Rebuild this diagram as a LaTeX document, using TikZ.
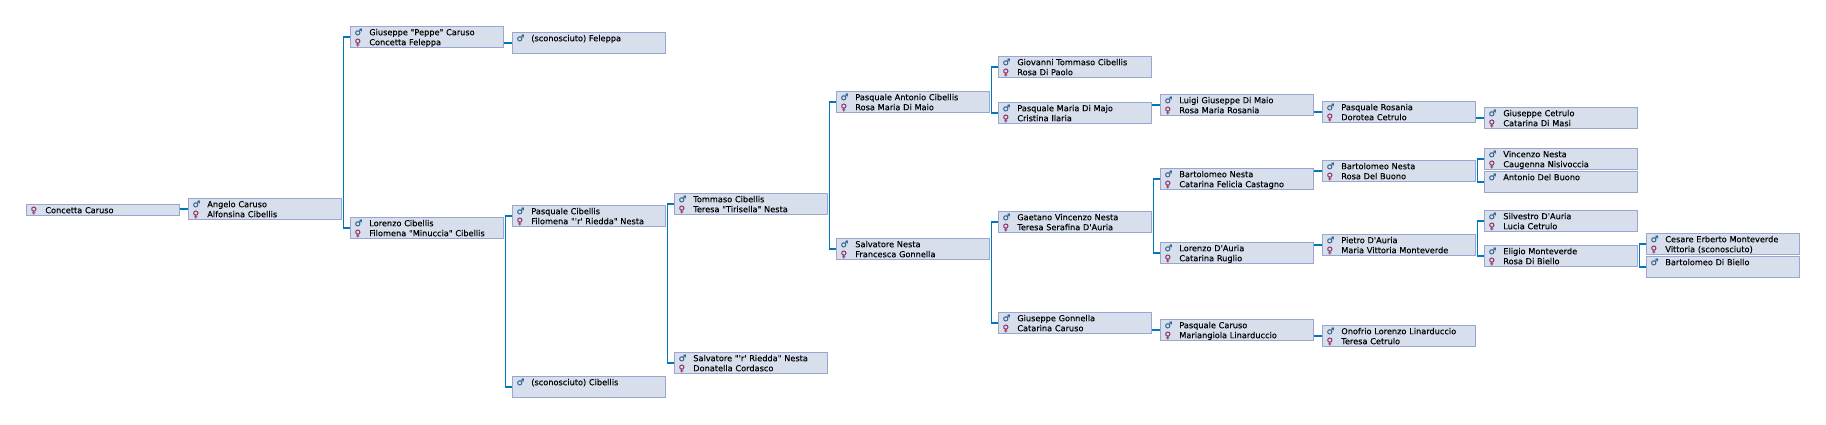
\documentclass[tikz,border=0pt]{standalone}
\usepackage{fontspec}
\usepackage{xcolor}
\usetikzlibrary{positioning}
\newfontfamily\pedfont[WordSpace=1.5,FakeBold=0.1]{DejaVu Sans}
\newfontfamily\signfont[FakeBold=0.3]{DejaVu Sans}
\definecolor{boxfill}{HTML}{D6DFEB}
\definecolor{boxline}{HTML}{9AA6CE}
\definecolor{linkline}{HTML}{0077BB}
\definecolor{malecol}{HTML}{2F5F8F}
\definecolor{femalecol}{HTML}{8B2560}
\newcommand{\linerule}{\rule[-1.8pt]{0pt}{10pt}}
\newcommand{\he}[1]{\linerule\makebox[14.8pt][l]{\textcolor{malecol}{\signfont\fontsize{9}{10}\selectfont ♂}}#1}
\newcommand{\she}[1]{\linerule\makebox[14.8pt][l]{\textcolor{femalecol}{\signfont\fontsize{9}{10}\selectfont ♀}}#1}
\tikzset{
  person/.style={
    rectangle,
    draw=boxline,
    fill=boxfill,
    line width=0.8pt,
    outer sep=0pt,
    inner xsep=4.5pt,
    inner ysep=0pt,
    text width=144.6pt,
    minimum height=21.4pt,
    align=left,
    font=\pedfont\fontsize{8.2}{10}\selectfont,
  },
  child/.style={person,right=8.4pt of #1},
  link/.style={draw=linkline,line width=1.4pt},
}
\begin{document}
\begin{tikzpicture}[x=1pt,y=-1pt]
  \useasboundingbox (0,0) rectangle (1826,424);

  \node[person,minimum height=11.4pt] (concetta) at (102.8,210) {\she{Concetta Caruso}};
  \node[child=concetta,yshift=1pt] (angelo) {\he{Angelo Caruso}\\\she{Alfonsina Cibellis}};

  \node[child=angelo,yshift=172pt] (giuseppe) {\he{Giuseppe "Peppe" Caruso}\\\she{Concetta Feleppa}};
  \node[child=angelo,yshift=-19pt] (lorenzo) {\he{Lorenzo Cibellis}\\\she{Filomena "Minuccia" Cibellis}};

  \node[child=giuseppe,yshift=-6pt] (feleppa) {\he{(sconosciuto) Feleppa}\\\linerule};
  \node[child=lorenzo,yshift=12pt] (pasqualec) {\he{Pasquale Cibellis}\\\she{Filomena "'r' Riedda" Nesta}};
  \node[child=lorenzo,yshift=-159pt] (cibellis) {\he{(sconosciuto) Cibellis}\\\linerule};

  \node[child=pasqualec,yshift=12pt] (tommaso) {\he{Tommaso Cibellis}\\\she{Teresa "Tirisella" Nesta}};
  \node[child=pasqualec,yshift=-147pt] (riedda) {\he{Salvatore "'r' Riedda" Nesta}\\\she{Donatella Cordasco}};

  \node[child=tommaso,yshift=102pt] (pasqualea) {\he{Pasquale Antonio Cibellis}\\\she{Rosa Maria Di Maio}};
  \node[child=tommaso,yshift=-45pt] (salvatore) {\he{Salvatore Nesta}\\\she{Francesca Gonnella}};

  \node[child=pasqualea,yshift=35pt] (giovanni) {\he{Giovanni Tommaso Cibellis}\\\she{Rosa Di Paolo}};
  \node[child=pasqualea,yshift=-11pt] (pasqualem) {\he{Pasquale Maria Di Majo}\\\she{Cristina Ilaria}};
  \node[child=salvatore,yshift=27pt] (gaetano) {\he{Gaetano Vincenzo Nesta}\\\she{Teresa Serafina D'Auria}};
  \node[child=salvatore,yshift=-74pt] (gonnella) {\he{Giuseppe Gonnella}\\\she{Catarina Caruso}};

  \node[child=pasqualem,yshift=8pt] (luigi) {\he{Luigi Giuseppe Di Maio}\\\she{Rosa Maria Rosania}};
  \node[child=gaetano,yshift=43pt] (bartolomeon) {\he{Bartolomeo Nesta}\\\she{Catarina Felicia Castagno}};
  \node[child=gaetano,yshift=-31pt] (lorenzod) {\he{Lorenzo D'Auria}\\\she{Catarina Ruglio}};
  \node[child=gonnella,yshift=-7pt] (pasqualecar) {\he{Pasquale Caruso}\\\she{Mariangiola Linarduccio}};

  \node[child=luigi,yshift=-7pt] (rosania) {\he{Pasquale Rosania}\\\she{Dorotea Cetrulo}};
  \node[child=bartolomeon,yshift=8pt] (bartolomeob) {\he{Bartolomeo Nesta}\\\she{Rosa Del Buono}};
  \node[child=lorenzod,yshift=8pt] (pietro) {\he{Pietro D'Auria}\\\she{Maria Vittoria Monteverde}};
  \node[child=pasqualecar,yshift=-6pt] (onofrio) {\he{Onofrio Lorenzo Linarduccio}\\\she{Teresa Cetrulo}};

  \node[child=rosania,yshift=-6pt] (cetrulo) {\he{Giuseppe Cetrulo}\\\she{Catarina Di Masi}};
  \node[child=bartolomeob,yshift=12pt] (vincenzo) {\he{Vincenzo Nesta}\\\she{Caugenna Nisivoccia}};
  \node[child=bartolomeob,yshift=-11pt] (antonio) {\he{Antonio Del Buono}\\\linerule};
  \node[child=pietro,yshift=24pt] (silvestro) {\he{Silvestro D'Auria}\\\she{Lucia Cetrulo}};
  \node[child=pietro,yshift=-11pt] (eligio) {\he{Eligio Monteverde}\\\she{Rosa Di Biello}};

  \node[child=eligio,yshift=12pt] (cesare) {\he{Cesare Erberto Monteverde}\\\she{Vittoria (sconosciuto)}};
  \node[child=eligio,yshift=-11pt] (biello) {\he{Bartolomeo Di Biello}\\\linerule};

  % two parents
  \draw[link] (giuseppe.west) -| ([xshift=1.7pt]angelo.east) |- (lorenzo.west);
  \draw[link] (pasqualec.west) -| ([xshift=1.7pt]lorenzo.east) |- (cibellis.west);
  \draw[link] (tommaso.west) -| ([xshift=1.7pt]pasqualec.east) |- (riedda.west);
  \draw[link] (pasqualea.west) -| ([xshift=1.7pt]tommaso.east) |- (salvatore.west);
  \draw[link] (giovanni.west) -| ([xshift=1.7pt]pasqualea.east) |- (pasqualem.west);
  \draw[link] (gaetano.west) -| ([xshift=1.7pt]salvatore.east) |- (gonnella.west);
  \draw[link] (bartolomeon.west) -| ([xshift=1.7pt]gaetano.east) |- (lorenzod.west);
  \draw[link] (vincenzo.west) -| ([xshift=1.7pt]bartolomeob.east) |- (antonio.west);
  \draw[link] (silvestro.west) -| ([xshift=1.7pt]pietro.east) |- (eligio.west);
  \draw[link] (cesare.west) -| ([xshift=1.7pt]eligio.east) |- (biello.west);

  % one parent
  \draw[link] (concetta.east |- angelo.west) -- (angelo.west);
  \draw[link] (giuseppe.east |- feleppa.west) -- (feleppa.west);
  \draw[link] (pasqualem.east |- luigi.west) -- (luigi.west);
  \draw[link] (luigi.east |- rosania.west) -- (rosania.west);
  \draw[link] (rosania.east |- cetrulo.west) -- (cetrulo.west);
  \draw[link] (bartolomeon.east |- bartolomeob.west) -- (bartolomeob.west);
  \draw[link] (lorenzod.east |- pietro.west) -- (pietro.west);
  \draw[link] (gonnella.east |- pasqualecar.west) -- (pasqualecar.west);
  \draw[link] (pasqualecar.east |- onofrio.west) -- (onofrio.west);
\end{tikzpicture}
\end{document}
